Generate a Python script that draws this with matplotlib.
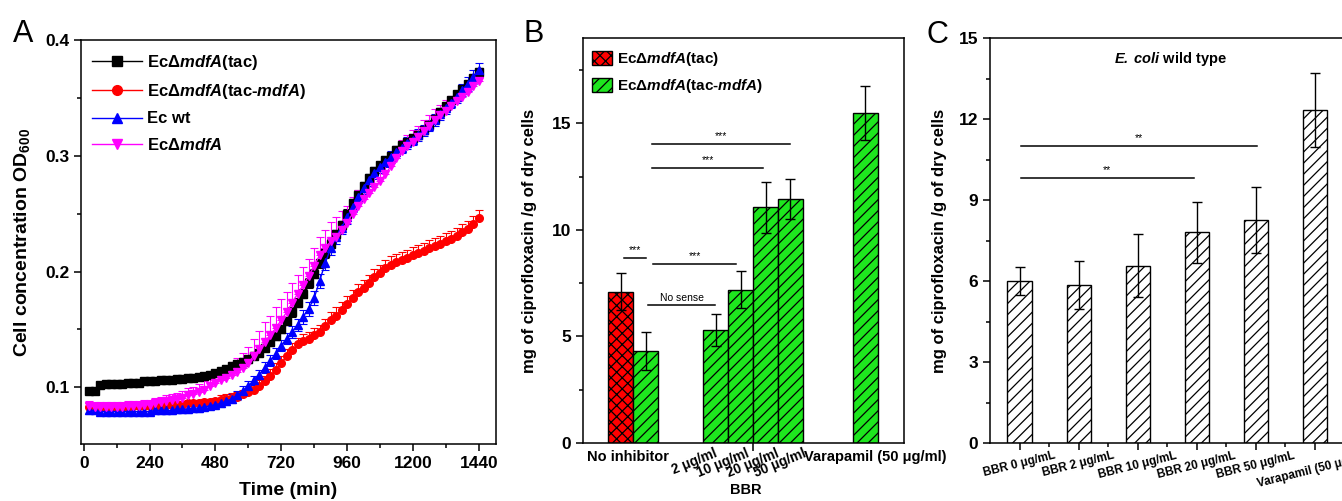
import numpy as np
import matplotlib.pyplot as plt
from matplotlib.patches import Patch
from matplotlib.lines import Line2D
from matplotlib.ticker import MultipleLocator

plt.rcParams['font.family'] = ['Liberation Sans', 'DejaVu Sans']
plt.rcParams['mathtext.fontset'] = 'custom'
plt.rcParams['mathtext.rm'] = 'Liberation Sans'
plt.rcParams['mathtext.it'] = 'Liberation Sans:italic'
plt.rcParams['mathtext.bf'] = 'Liberation Sans:bold'
plt.rcParams['mathtext.bfit'] = 'Liberation Sans:italic:bold'
plt.rcParams['hatch.linewidth'] = 0.9
plt.rcParams['axes.linewidth'] = 1.1

RED = '#FF0000'
GREEN = '#1EE61E'
BLUE = '#0000FF'
MAGENTA = '#FF00FF'

# ---- panel A: growth curves (OD600, every 20 min) ----
time_min = np.arange(20, 1441, 20)

od_tac = [0.097, 0.097, 0.102, 0.103, 0.103, 0.103, 0.103, 0.104, 0.104, 0.104,
          0.105, 0.105, 0.105, 0.106, 0.106, 0.106, 0.107, 0.107, 0.108, 0.108,
          0.109, 0.110, 0.111, 0.112, 0.114, 0.116, 0.118, 0.120, 0.122, 0.124,
          0.127, 0.130, 0.134, 0.139, 0.144, 0.150, 0.157, 0.165, 0.173, 0.181,
          0.190, 0.198, 0.207, 0.216, 0.224, 0.232, 0.240, 0.250, 0.259, 0.266,
          0.274, 0.281, 0.287, 0.292, 0.296, 0.300, 0.305, 0.309, 0.312, 0.315,
          0.318, 0.322, 0.327, 0.332, 0.338, 0.343, 0.348, 0.353, 0.358, 0.362,
          0.367, 0.372]
err_tac = [0.002, 0.002, 0.002, 0.002, 0.002, 0.002, 0.002, 0.002, 0.002, 0.002,
           0.002, 0.002, 0.002, 0.002, 0.002, 0.002, 0.002, 0.002, 0.002, 0.002,
           0.002, 0.002, 0.002, 0.002, 0.002, 0.002, 0.002, 0.002, 0.003, 0.003,
           0.003, 0.003, 0.003, 0.003, 0.003, 0.003, 0.003, 0.004, 0.004, 0.004,
           0.004, 0.004, 0.004, 0.004, 0.004, 0.004, 0.004, 0.004, 0.004, 0.004,
           0.003, 0.003, 0.003, 0.003, 0.003, 0.003, 0.003, 0.003, 0.003, 0.003,
           0.003, 0.003, 0.003, 0.003, 0.003, 0.003, 0.003, 0.003, 0.003, 0.003,
           0.003, 0.004]

od_tac_mdfa = [0.083, 0.083, 0.083, 0.083, 0.083, 0.083, 0.083, 0.083, 0.084, 0.084,
               0.084, 0.084, 0.084, 0.084, 0.085, 0.085, 0.085, 0.085, 0.086, 0.086,
               0.086, 0.087, 0.087, 0.088, 0.089, 0.090, 0.091, 0.092, 0.094, 0.096,
               0.098, 0.101, 0.105, 0.110, 0.115, 0.121, 0.127, 0.132, 0.137, 0.140,
               0.142, 0.145, 0.148, 0.153, 0.158, 0.162, 0.167, 0.172, 0.177, 0.182,
               0.186, 0.190, 0.195, 0.199, 0.203, 0.206, 0.208, 0.210, 0.212, 0.214,
               0.216, 0.218, 0.220, 0.222, 0.224, 0.226, 0.228, 0.231, 0.234, 0.237,
               0.241, 0.246]
err_tac_mdfa = [0.003, 0.003, 0.003, 0.003, 0.003, 0.003, 0.003, 0.003, 0.003, 0.003,
                0.003, 0.003, 0.003, 0.003, 0.003, 0.003, 0.003, 0.003, 0.003, 0.003,
                0.003, 0.003, 0.003, 0.003, 0.004, 0.004, 0.004, 0.004, 0.004, 0.005,
                0.005, 0.005, 0.005, 0.006, 0.006, 0.006, 0.006, 0.006, 0.006, 0.006,
                0.006, 0.006, 0.006, 0.006, 0.007, 0.007, 0.007, 0.007, 0.007, 0.007,
                0.007, 0.007, 0.007, 0.007, 0.007, 0.007, 0.007, 0.007, 0.007, 0.007,
                0.007, 0.007, 0.007, 0.007, 0.007, 0.007, 0.007, 0.007, 0.007, 0.007,
                0.007, 0.007]

od_wt = [0.080, 0.080, 0.079, 0.079, 0.079, 0.079, 0.079, 0.079, 0.079, 0.079,
         0.079, 0.079, 0.080, 0.080, 0.080, 0.080, 0.081, 0.081, 0.081, 0.082,
         0.082, 0.083, 0.084, 0.085, 0.086, 0.088, 0.090, 0.093, 0.097, 0.101,
         0.106, 0.111, 0.117, 0.123, 0.129, 0.136, 0.142, 0.148, 0.154, 0.161,
         0.168, 0.177, 0.192, 0.207, 0.220, 0.230, 0.238, 0.247, 0.256, 0.264,
         0.272, 0.279, 0.285, 0.290, 0.295, 0.299, 0.303, 0.307, 0.311, 0.314,
         0.318, 0.322, 0.326, 0.331, 0.336, 0.341, 0.346, 0.351, 0.357, 0.362,
         0.368, 0.374]
err_wt = [0.003, 0.003, 0.003, 0.003, 0.003, 0.003, 0.003, 0.003, 0.003, 0.003,
          0.003, 0.003, 0.003, 0.003, 0.003, 0.003, 0.003, 0.003, 0.003, 0.003,
          0.003, 0.003, 0.003, 0.003, 0.003, 0.003, 0.004, 0.004, 0.004, 0.004,
          0.004, 0.004, 0.005, 0.005, 0.005, 0.005, 0.005, 0.005, 0.005, 0.006,
          0.006, 0.006, 0.006, 0.006, 0.006, 0.006, 0.006, 0.006, 0.005, 0.005,
          0.005, 0.005, 0.005, 0.005, 0.005, 0.005, 0.005, 0.005, 0.005, 0.005,
          0.005, 0.005, 0.005, 0.005, 0.005, 0.005, 0.005, 0.005, 0.005, 0.006,
          0.006, 0.006]

od_dmdfa = [0.084, 0.083, 0.083, 0.083, 0.083, 0.083, 0.083, 0.084, 0.084, 0.084,
            0.085, 0.085, 0.086, 0.087, 0.088, 0.089, 0.090, 0.091, 0.093, 0.094,
            0.096, 0.098, 0.101, 0.104, 0.106, 0.108, 0.111, 0.113, 0.117, 0.121,
            0.127, 0.133, 0.139, 0.145, 0.151, 0.158, 0.165, 0.173, 0.181, 0.188,
            0.196, 0.205, 0.214, 0.220, 0.226, 0.230, 0.236, 0.242, 0.250, 0.257,
            0.263, 0.268, 0.273, 0.278, 0.284, 0.291, 0.298, 0.304, 0.308, 0.312,
            0.316, 0.321, 0.326, 0.331, 0.335, 0.339, 0.343, 0.347, 0.351, 0.355,
            0.360, 0.365]
err_dmdfa = [0.004, 0.004, 0.004, 0.004, 0.004, 0.004, 0.004, 0.004, 0.004, 0.004,
             0.004, 0.004, 0.005, 0.005, 0.005, 0.005, 0.005, 0.006, 0.006, 0.006,
             0.007, 0.007, 0.008, 0.008, 0.009, 0.010, 0.011, 0.012, 0.013, 0.014,
             0.015, 0.016, 0.017, 0.017, 0.018, 0.018, 0.017, 0.017, 0.016, 0.016,
             0.015, 0.015, 0.016, 0.016, 0.017, 0.017, 0.016, 0.015, 0.014, 0.013,
             0.012, 0.012, 0.011, 0.011, 0.011, 0.010, 0.010, 0.010, 0.010, 0.010,
             0.010, 0.010, 0.009, 0.009, 0.009, 0.009, 0.009, 0.009, 0.009, 0.009,
             0.009, 0.009]

# ---- panel B: ciprofloxacin accumulation, mutants ----
b_labels = ['No inhibitor', 'No inhibitor', '2 μg/ml', '10 μg/ml', '20 μg/ml', '50 μg/ml',
            'Varapamil (50 μg/ml)']
b_values = [7.1, 4.31, 5.3, 7.2, 11.06, 11.44, 15.5]
b_errors = [0.88, 0.9, 0.75, 0.86, 1.2, 0.94, 1.27]
b_strain = ['tac', 'tac-mdfA', 'tac-mdfA', 'tac-mdfA', 'tac-mdfA', 'tac-mdfA', 'tac-mdfA']

# ---- panel C: ciprofloxacin accumulation, wild type ----
c_labels = ['BBR 0 μg/mL', 'BBR 2 μg/mL', 'BBR 10 μg/mL', 'BBR 20 μg/mL', 'BBR 50 μg/mL',
            'Varapamil (50 μg/mL)']
c_values = [6.0, 5.85, 6.56, 7.8, 8.26, 12.33]
c_errors = [0.52, 0.89, 1.17, 1.13, 1.22, 1.37]

W, H = 1342, 501
fig = plt.figure(figsize=(W / 100, H / 100), dpi=100)


def box(x0, x1, y0, y1):
    return [x0 / W, 1 - y1 / H, (x1 - x0) / W, (y1 - y0) / H]


# ================= A =================
axA = fig.add_axes(box(81, 496, 40, 444))
series = [
    (od_tac, err_tac, 's', 'black', 'EcΔ$\\mathbfit{mdfA}$(tac)', False),
    (od_tac_mdfa, err_tac_mdfa, 'o', RED, 'EcΔ$\\mathbfit{mdfA}$(tac-$\\mathbfit{mdfA}$)', True),
    (od_wt, err_wt, '^', BLUE, 'Ec wt', False),
    (od_dmdfa, err_dmdfa, 'v', MAGENTA, 'EcΔ$\\mathbfit{mdfA}$', True),
]
handles = []
for y, e, m, c, lab, upper in series:
    e = np.array(e)
    yerr = [np.zeros_like(e), e] if upper else e
    axA.errorbar(time_min, y, yerr=yerr, fmt='-' + m, color=c, ms=5.5, lw=1,
                 elinewidth=0.8, capsize=2.8, capthick=0.8)
    handles.append(Line2D([], [], color=c, marker=m, ms=7, lw=1, label=lab))
axA.set_xlim(-10, 1503)
axA.set_ylim(0.051, 0.4)
axA.set_xticks(np.arange(0, 1441, 240))
axA.xaxis.set_minor_locator(MultipleLocator(120))
axA.set_yticks([0.1, 0.2, 0.3, 0.4])
axA.yaxis.set_minor_locator(MultipleLocator(0.05))
axA.tick_params(which='major', direction='out', length=5, width=1.1, labelsize=12.5)
axA.tick_params(which='minor', direction='out', length=3, width=1.1)
for lbl in axA.get_xticklabels() + axA.get_yticklabels():
    lbl.set_fontweight('bold')
axA.set_xlabel('Time (min)', fontsize=14, fontweight='bold')
axA.set_ylabel('Cell concentration OD$_\\mathbf{600}$', fontsize=14, fontweight='bold')
axA.xaxis.set_label_coords(0.5, -0.095)
axA.yaxis.set_label_coords(-0.118, 0.5)
axA.legend(handles=handles, loc='upper left', bbox_to_anchor=(0.01, 0.985), frameon=False,
           prop={'weight': 'bold', 'size': 12}, handlelength=3.0, numpoints=1,
           handletextpad=0.3, labelspacing=0.62, borderaxespad=0)

# ================= B =================
axB = fig.add_axes(box(583, 904, 38, 443))
b_pos = [0, 1, 3.8, 4.8, 5.8, 6.8, 9.8]
for x, v, e, s in zip(b_pos, b_values, b_errors, b_strain):
    col, hat = (RED, 'xxx') if s == 'tac' else (GREEN, '///')
    axB.bar(x, v, width=1.0, color=col, edgecolor='black', linewidth=1, hatch=hat, zorder=2)
    axB.errorbar(x, v, yerr=e, fmt='none', ecolor='black', elinewidth=1,
                 capsize=3.6, capthick=1, zorder=3)
axB.set_xlim(-1.5, 11.34)
axB.set_ylim(0, 19)
axB.set_yticks([0, 5, 10, 15])
axB.yaxis.set_minor_locator(MultipleLocator(2.5))
axB.set_xticks([])
axB.set_xticks([5.3], minor=True)
axB.tick_params(axis='x', which='minor', direction='out', length=6, width=1.1)
axB.tick_params(axis='y', which='major', direction='out', length=5, width=1.1, labelsize=12.5)
axB.tick_params(axis='y', which='minor', direction='out', length=3, width=1.1)
for lbl in axB.get_yticklabels():
    lbl.set_fontweight('bold')
axB.set_ylabel('mg of ciprofloxacin /g of dry cells', fontsize=12, fontweight='bold')
axB.yaxis.set_label_coords(-0.143, 0.5)

tB = axB.get_xaxis_transform()
axB.text(0.3, -0.018, b_labels[0], transform=tB, ha='center', va='top',
         fontsize=10.5, fontweight='bold')
for x, lab in zip([3.75, 5.0, 6.2, 7.3], b_labels[2:6]):
    axB.text(x, -0.008, lab, transform=tB, ha='right', va='top', rotation=22,
             rotation_mode='anchor', fontsize=9.8, fontweight='bold')
axB.text(5.0, -0.1, 'BBR', transform=tB, ha='center', va='top',
         fontsize=10.5, fontweight='bold')
axB.text(b_pos[6] + 0.4, -0.018, b_labels[6], transform=tB, ha='center', va='top',
         fontsize=10.5, fontweight='bold')

# significance marks
b_sig = [(1.26, 6.78, 14.03, '***'), (1.26, 5.7, 12.9, '***'),
         (0.14, 1.02, 8.7, '***'), (1.3, 4.62, 8.4, '***'), (1.1, 3.78, 6.47, 'No sense')]
for x0, x1, y, s in b_sig:
    axB.plot([x0, x1], [y, y], color='black', lw=1.1)
    axB.text((x0 + x1) / 2, y + 0.12, s, ha='center', va='bottom', fontsize=7.5)

axB.legend(handles=[Patch(facecolor=RED, edgecolor='black', hatch='xxx'),
                    Patch(facecolor=GREEN, edgecolor='black', hatch='///')],
           labels=['EcΔ$\\mathbfit{mdfA}$(tac)',
                   'EcΔ$\\mathbfit{mdfA}$(tac-$\\mathbfit{mdfA}$)'],
           loc='upper left', bbox_to_anchor=(0.01, 0.985), frameon=False,
           prop={'weight': 'bold', 'size': 11}, handlelength=1.3,
           handleheight=1.1, handletextpad=0.3, labelspacing=0.6, borderaxespad=0)

# ================= C =================
axC = fig.add_axes(box(990, 1344.5, 38, 443))
c_pos = np.arange(len(c_values))
axC.bar(c_pos, c_values, width=0.41, color='white', edgecolor='black', linewidth=1,
        hatch='///', zorder=2)
axC.errorbar(c_pos, c_values, yerr=c_errors, fmt='none', ecolor='black', elinewidth=1,
             capsize=3.6, capthick=1, zorder=3)
axC.set_xlim(-0.5, 5.5)
axC.set_ylim(0, 15)
axC.set_yticks(np.arange(0, 16, 3))
axC.yaxis.set_minor_locator(MultipleLocator(1.5))
axC.set_xticks(c_pos)
axC.set_xticks(c_pos[:-1] + 0.5, minor=True)
axC.set_xticklabels(c_labels, rotation=14, ha='center', fontsize=8.5, fontweight='bold')
axC.tick_params(axis='x', which='major', direction='out', length=5, width=1.1, pad=0)
axC.tick_params(axis='x', which='minor', direction='out', length=3, width=1.1)
axC.tick_params(axis='y', which='major', direction='out', length=5, width=1.1, labelsize=12.5)
axC.tick_params(axis='y', which='minor', direction='out', length=3, width=1.1)
for lbl in axC.get_yticklabels():
    lbl.set_fontweight('bold')
axC.set_ylabel('mg of ciprofloxacin /g of dry cells', fontsize=12, fontweight='bold')
axC.yaxis.set_label_coords(-0.121, 0.5)
axC.text(2.55, 14.55, '$\\mathbfit{E.\\;coli}$ wild type', ha='center', va='top',
         fontsize=10.5, fontweight='bold')

c_sig = [(0.03, 4.02, 11.0, '**'), (0.02, 2.95, 9.82, '**')]
for x0, x1, y, s in c_sig:
    axC.plot([x0, x1], [y, y], color='black', lw=1.1)
    axC.text((x0 + x1) / 2, y + 0.12, s, ha='center', va='bottom', fontsize=7.5)

# panel letters
for px, py, letter in [(13, 42, 'A'), (523, 42, 'B'), (926, 43, 'C')]:
    fig.text(px / W, 1 - py / H, letter, fontsize=22, va='baseline', ha='left')

fig.savefig('out.png', dpi=100)
